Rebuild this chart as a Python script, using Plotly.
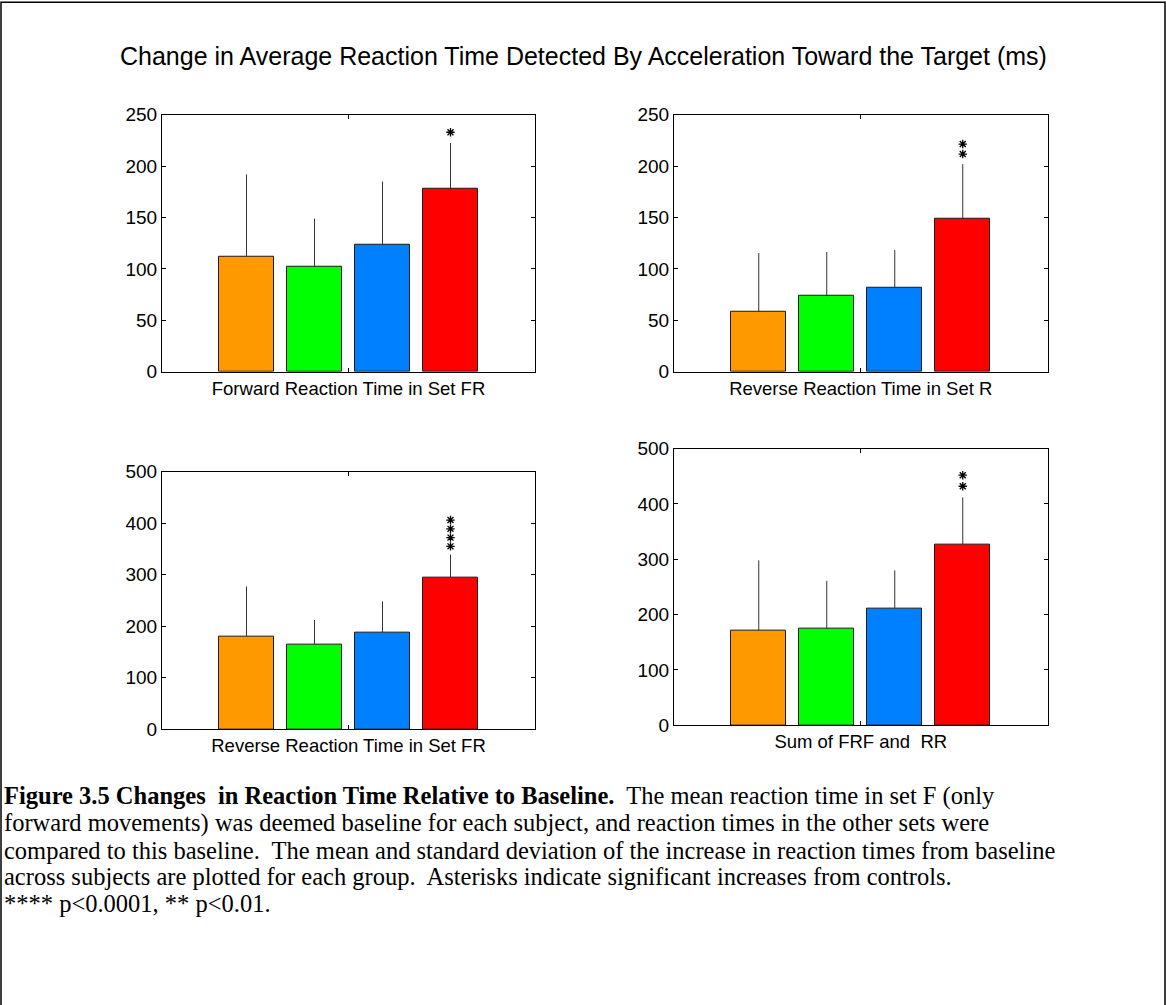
import plotly.graph_objects as go

# ---- data -------------------------------------------------------------
bar_colors = ["#FF9900", "#00FF00", "#0080FF", "#FF0000"]
group_pos = [1, 2, 3, 4]

panel_labels = [
    "Forward Reaction Time in Set FR",
    "Reverse Reaction Time in Set R",
    "Reverse Reaction Time in Set FR",
    "Sum of FRF and  RR",
]

fwd_fr_mean = [112, 102, 124, 178]
fwd_fr_sd = [80, 47, 61, 44.5]
fwd_fr_stars = [233]

rev_r_mean = [58.5, 73.5, 82, 148.5]
rev_r_sd = [57, 43, 36.5, 53.5]
rev_r_stars = [221.5, 211.8]

rev_fr_mean = [180, 165, 188, 295]
rev_fr_sd = [97, 47, 60, 44]
rev_fr_stars = [406, 389, 372, 355]

sum_mean = [171, 175, 211, 327]
sum_sd = [127, 86, 69, 85]
sum_stars = [452, 432]

y_max = [250, 250, 500, 500]
y_step = [50, 50, 100, 100]

means = [fwd_fr_mean, rev_r_mean, rev_fr_mean, sum_mean]
sds = [fwd_fr_sd, rev_r_sd, rev_fr_sd, sum_sd]
stars = [fwd_fr_stars, rev_r_stars, rev_fr_stars, sum_stars]

# ---- page geometry (pixels) ------------------------------------------
W, H = 1166, 1005
# left, right, top, bottom of each axes box
boxes = [
    (162, 535, 107, 369.5),
    (674, 1047.5, 107, 369.5),
    (162, 535, 471.5, 734.5),
    (674, 1047.5, 448, 730.5),
]

SANS = "Liberation Sans, Arial, sans-serif"
SERIF = "Liberation Serif, Times New Roman, serif"

fig = go.Figure()

for i in range(4):
    sfx = "" if i == 0 else str(i + 1)
    xa, ya = "x" + sfx, "y" + sfx
    fig.add_trace(go.Bar(
        x=group_pos, y=means[i], xaxis=xa, yaxis=ya,
        width=0.81,
        marker=dict(color=bar_colors, line=dict(color="#1a1a1a", width=1)),
        error_y=dict(type="data", symmetric=False, array=sds[i],
                     arrayminus=[0] * len(sds[i]), width=0,
                     thickness=1, color="#333333"),
        showlegend=False, hoverinfo="skip",
    ))
    # significance markers above the last group
    fig.add_trace(go.Scatter(
        x=[group_pos[-1]] * len(stars[i]), y=stars[i], xaxis=xa, yaxis=ya,
        mode="markers",
        marker=dict(symbol="asterisk-open", size=7, color="black",
                    line=dict(color="black", width=1.3)),
        showlegend=False, hoverinfo="skip",
    ))

    l, r, t, b = boxes[i]
    mid = (group_pos[0] + group_pos[-1]) / 2
    span = (r - l) / 68.0
    fig.layout["xaxis" + sfx] = dict(
        domain=[l / W, r / W], anchor=ya,
        range=[mid - span / 2, mid + span / 2],
        tickvals=[mid], ticktext=[panel_labels[i]],
        ticks="inside", ticklen=4, tickcolor="black",
        showline=True, linecolor="black", linewidth=1, mirror="ticks",
        showgrid=False, zeroline=False, fixedrange=True,
        tickfont=dict(family=SANS, size=18.5, color="black"),
    )
    fig.layout["yaxis" + sfx] = dict(
        domain=[1 - b / H, 1 - t / H], anchor=xa,
        range=[0, y_max[i]], dtick=y_step[i], tick0=0,
        ticks="inside", ticklen=4, tickcolor="black",
        showline=True, linecolor="black", linewidth=1, mirror="ticks",
        showgrid=False, zeroline=False, fixedrange=True,
        tickfont=dict(family=SANS, size=19, color="black"),
    )

# ---- title -------------------------------------------------------------
annotations = [dict(
    text="Change in Average Reaction Time Detected By Acceleration Toward the Target (ms)",
    x=583 / W, y=1 - 47 / H, xref="paper", yref="paper",
    xanchor="center", yanchor="middle", showarrow=False,
    font=dict(family=SANS, size=25, color="black"),
)]

# ---- caption -----------------------------------------------------------
nb = "\u00a0"
caption_lines = [
    "<b>Figure 3.5 Changes" + nb + " in Reaction Time Relative to Baseline.</b>"
    + nb + " The mean reaction time in set F (only",
    "forward movements) was deemed baseline for each subject, and reaction times in the other sets were",
    "compared to this baseline." + nb + " The mean and standard deviation of the increase in reaction times from baseline",
    "across subjects are plotted for each group." + nb + " Asterisks indicate significant increases from controls.",
    "**** p&lt;0.0001, ** p&lt;0.01.",
]
caption_y = [803, 830.5, 858, 885.5, 913]
for txt, yy in zip(caption_lines, caption_y):
    annotations.append(dict(
        text=txt, x=2 / W, y=1 - yy / H, xref="paper", yref="paper",
        xanchor="left", yanchor="middle", showarrow=False,
        font=dict(family=SERIF, size=24.5, color="black"),
    ))

# outer frame of the figure
shapes = [dict(type="rect", xref="paper", yref="paper",
               x0=1 / W, x1=1165 / W, y0=-0.02, y1=1 + 8 / H,
               line=dict(color="black", width=1.5))]

fig.update_layout(
    width=W, height=H,
    margin=dict(l=0, r=0, t=0, b=0),
    paper_bgcolor="white", plot_bgcolor="white",
    annotations=annotations, shapes=shapes,
    bargap=0,
)

fig.write_html("out.html", include_plotlyjs=True, config={"displayModeBar": False})
